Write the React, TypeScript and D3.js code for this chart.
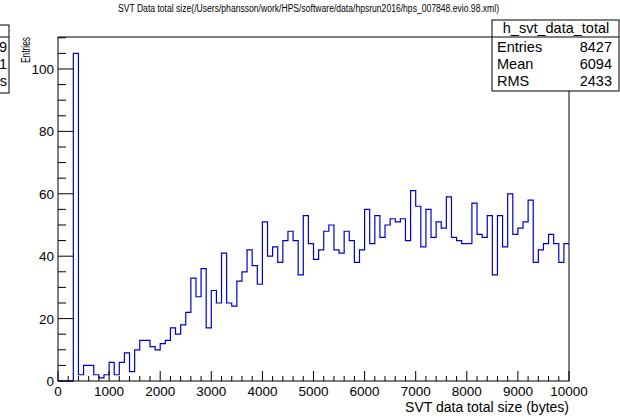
import React from 'react';
import * as d3 from 'd3';

// bin contents, 100 bins of 100 bytes from 0 to 10000
const binCounts = [
  0, 0, 0, 105, 2, 5, 5, 2, 1, 2,
  6, 2, 6, 9, 3, 10, 13, 13, 11, 10,
  12, 13, 17, 15, 18, 22, 33, 27, 36, 17,
  29, 25, 41, 25, 24, 32, 35, 42, 37, 31,
  51, 40, 43, 38, 45, 48, 45, 34, 53, 44,
  39, 42, 48, 50, 42, 41, 48, 45, 38, 42,
  55, 44, 53, 46, 50, 52, 51, 52, 45, 61,
  56, 43, 55, 46, 51, 49, 59, 46, 45, 44,
  44, 57, 47, 46, 53, 34, 53, 43, 60, 47,
  49, 51, 58, 38, 42, 44, 47, 44, 38, 44,
];
const xTicks = [0, 1000, 2000, 3000, 4000, 5000, 6000, 7000, 8000, 9000, 10000];
const yTicks = [0, 20, 40, 60, 80, 100];
const statNames = ['Entries', 'Mean', 'RMS'];
const statValues = ['8427', '6094', '2433'];

const title = 'SVT Data total size(/Users/phansson/work/HPS/software/data/hpsrun2016/hps_007848.evio.98.xml)';
const font = 'Liberation Sans, Arial, Helvetica, sans-serif';

export default function App() {
  const width = 620, height = 418;
  const left = 58, right = 569, top = 37, bottom = 381;
  const binWidth = 100;

  const x = d3.scaleLinear().domain([0, 10000]).range([left, right]);
  const y = d3.scaleLinear().domain([0, 105 * 1.05]).range([bottom, top]);

  // step outline like ROOT's histogram drawing
  const pts: [number, number][] = [];
  binCounts.forEach((c, i) => {
    pts.push([x(i * binWidth), y(c)]);
    pts.push([x((i + 1) * binWidth), y(c)]);
  });
  const path = d3.line()(pts);

  const xMinor = d3.range(0, 10001, 200);
  const yMinor = d3.range(0, 111, 5);

  return (
    <svg width={width} height={height} style={{ position: 'absolute', left: 0, top: 0, background: '#fff' }}
      fontFamily={font}>
      <rect width={width} height={height} fill="#fff" />
      <text x={118} y={12} fontSize={10} textLength={381} lengthAdjust="spacingAndGlyphs">{title}</text>

      {/* leftover stats box from the neighbouring pad */}
      <g>
        <rect x={-60} y={25} width={69} height={68} fill="#fff" stroke="#000" />
        <line x1={-60} x2={9} y1={37} y2={37} stroke="#000" />
        <text x={7} y={52} textAnchor="end" fontSize={14.5}>9</text>
        <text x={7} y={69} textAnchor="end" fontSize={14.5}>1</text>
        <text x={7} y={86} textAnchor="end" fontSize={14.5}>s</text>
      </g>

      <rect x={left} y={top} width={right - left} height={bottom - top} fill="none" stroke="#000" />

      <path d={path || ''} fill="none" stroke="#0000cc" strokeWidth={1.2} />

      {/* x axis */}
      <g>
        {xMinor.map(v => (
          <line key={v} x1={x(v)} x2={x(v)} y1={bottom} y2={bottom - (v % 1000 === 0 ? 10 : 5)} stroke="#000" />
        ))}
        {xTicks.map(v => (
          <text key={v} x={x(v)} y={396} textAnchor="middle" fontSize={13.5}>{v}</text>
        ))}
        <text x={right} y={412} textAnchor="end" fontSize={14}>SVT data total size (bytes)</text>
      </g>

      {/* y axis */}
      <g>
        {yMinor.map(v => (
          <line key={v} x1={left} x2={left + (v % 20 === 0 ? 15 : 8)} y1={y(v)} y2={y(v)} stroke="#000" />
        ))}
        {yTicks.map(v => (
          <text key={v} x={54} y={y(v) + 5} textAnchor="end" fontSize={13.5}>{v}</text>
        ))}
        <text transform={`translate(30,${top}) rotate(-90)`} textAnchor="end" fontSize={13}
          textLength={26} lengthAdjust="spacingAndGlyphs">Entries</text>
      </g>

      {/* stats box */}
      <g>
        <rect x={492} y={20} width={127} height={71} fill="#fff" stroke="#000" />
        <line x1={492} x2={619} y1={37} y2={37} stroke="#000" />
        <text x={556} y={33} textAnchor="middle" fontSize={14.5}>h_svt_data_total</text>
        {statNames.map((n, i) => (
          <g key={n}>
            <text x={497} y={52 + i * 17} fontSize={14.5}>{n}</text>
            <text x={612} y={52 + i * 17} textAnchor="end" fontSize={14.5}>{statValues[i]}</text>
          </g>
        ))}
      </g>
    </svg>
  );
}
